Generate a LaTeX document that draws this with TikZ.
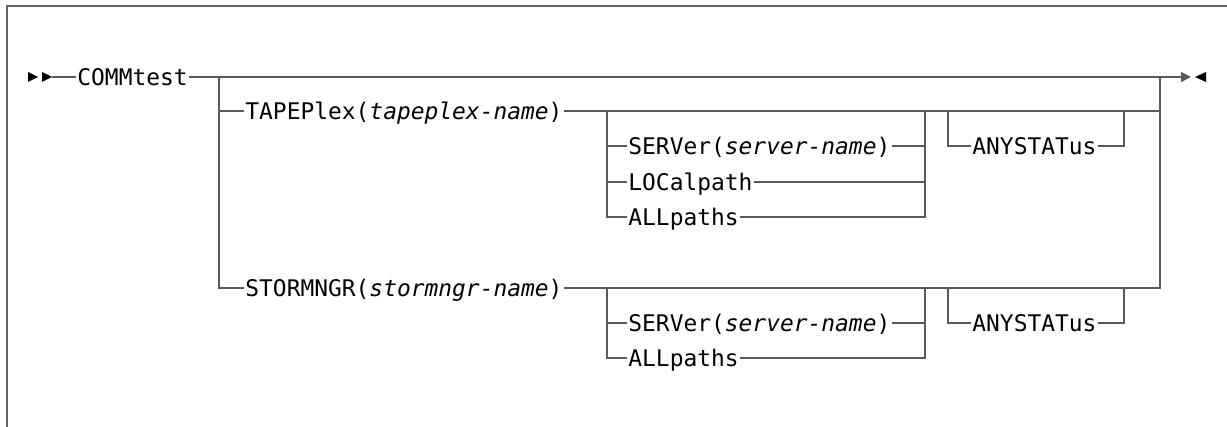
\documentclass[tikz,border=0pt]{standalone}
\usepackage{fontspec}
\newfontfamily\synfont{DejaVu Sans Mono}
\usetikzlibrary{arrows.meta}
\tikzset{
	frame/.style={draw=black!60, line width=1pt},
	synline/.style={draw=black!65, line width=0.8pt},
	kw/.style={font=\synfont\fontsize{11.45pt}{13pt}\selectfont, text=black,
		inner xsep=0.5pt, inner ysep=0pt, text height=8.35pt, text depth=0pt, anchor=west},
}
\begin{document}
\begin{tikzpicture}[x=0.5pt,y=-0.5pt]
	\useasboundingbox (0,0) rectangle (1227,427);
	\draw[frame] (1227,6) -- (7,6) -- (7,427);
	% main line
	\fill (28,72) -- (38,77) -- (28,82) -- cycle;
	\fill (42,72) -- (52,77) -- (42,82) -- cycle;
	\node[kw] (comm) at (76,77) {COMMtest};
	\coordinate (mainend) at (1191,77);
	\draw[synline] (52,77) -- (comm.west);
	\draw[synline,-{Triangle[length=5pt,width=5pt]}] (comm.east) -- (mainend);
	\fill (1206,72) -- (1195,77) -- (1206,82) -- cycle;
	% first choice
	\node[kw] (tape) at (244,111) {TAPEPlex(\textit{tapeplex-name})};
	\node[kw] (stor) at (244,288) {STORMNGR(\textit{stormngr-name})};
	\draw[synline] (219,77) |- (stor.west);
	\draw[synline] (219,111) -- (tape.west);
	\draw[synline] (tape.east) -- (1160,111);
	\draw[synline] (stor.east) -| (1160,77);
	% TAPEPlex options
	\node[kw] (srva) at (627,146) {SERVer(\textit{server-name})};
	\node[kw] (loca) at (627,182) {LOCalpath};
	\node[kw] (alla) at (627,217) {ALLpaths};
	\draw[synline] (607,111) |- (alla.west);
	\draw[synline] (607,146) -- (srva.west);
	\draw[synline] (607,182) -- (loca.west);
	\draw[synline] (srva.east) -- (925,146);
	\draw[synline] (loca.east) -- (925,182);
	\draw[synline] (alla.east) -| (925,111);
	\node[kw] (anya) at (971,146) {ANYSTATus};
	\draw[synline] (948,111) |- (anya.west);
	\draw[synline] (anya.east) -| (1124,111);
	% STORMNGR options
	\node[kw] (srvb) at (627,323) {SERVer(\textit{server-name})};
	\node[kw] (allb) at (627,358) {ALLpaths};
	\draw[synline] (607,288) |- (allb.west);
	\draw[synline] (607,323) -- (srvb.west);
	\draw[synline] (srvb.east) -- (925,323);
	\draw[synline] (allb.east) -| (925,288);
	\node[kw] (anyb) at (971,323) {ANYSTATus};
	\draw[synline] (948,288) |- (anyb.west);
	\draw[synline] (anyb.east) -| (1124,288);
\end{tikzpicture}
\end{document}
